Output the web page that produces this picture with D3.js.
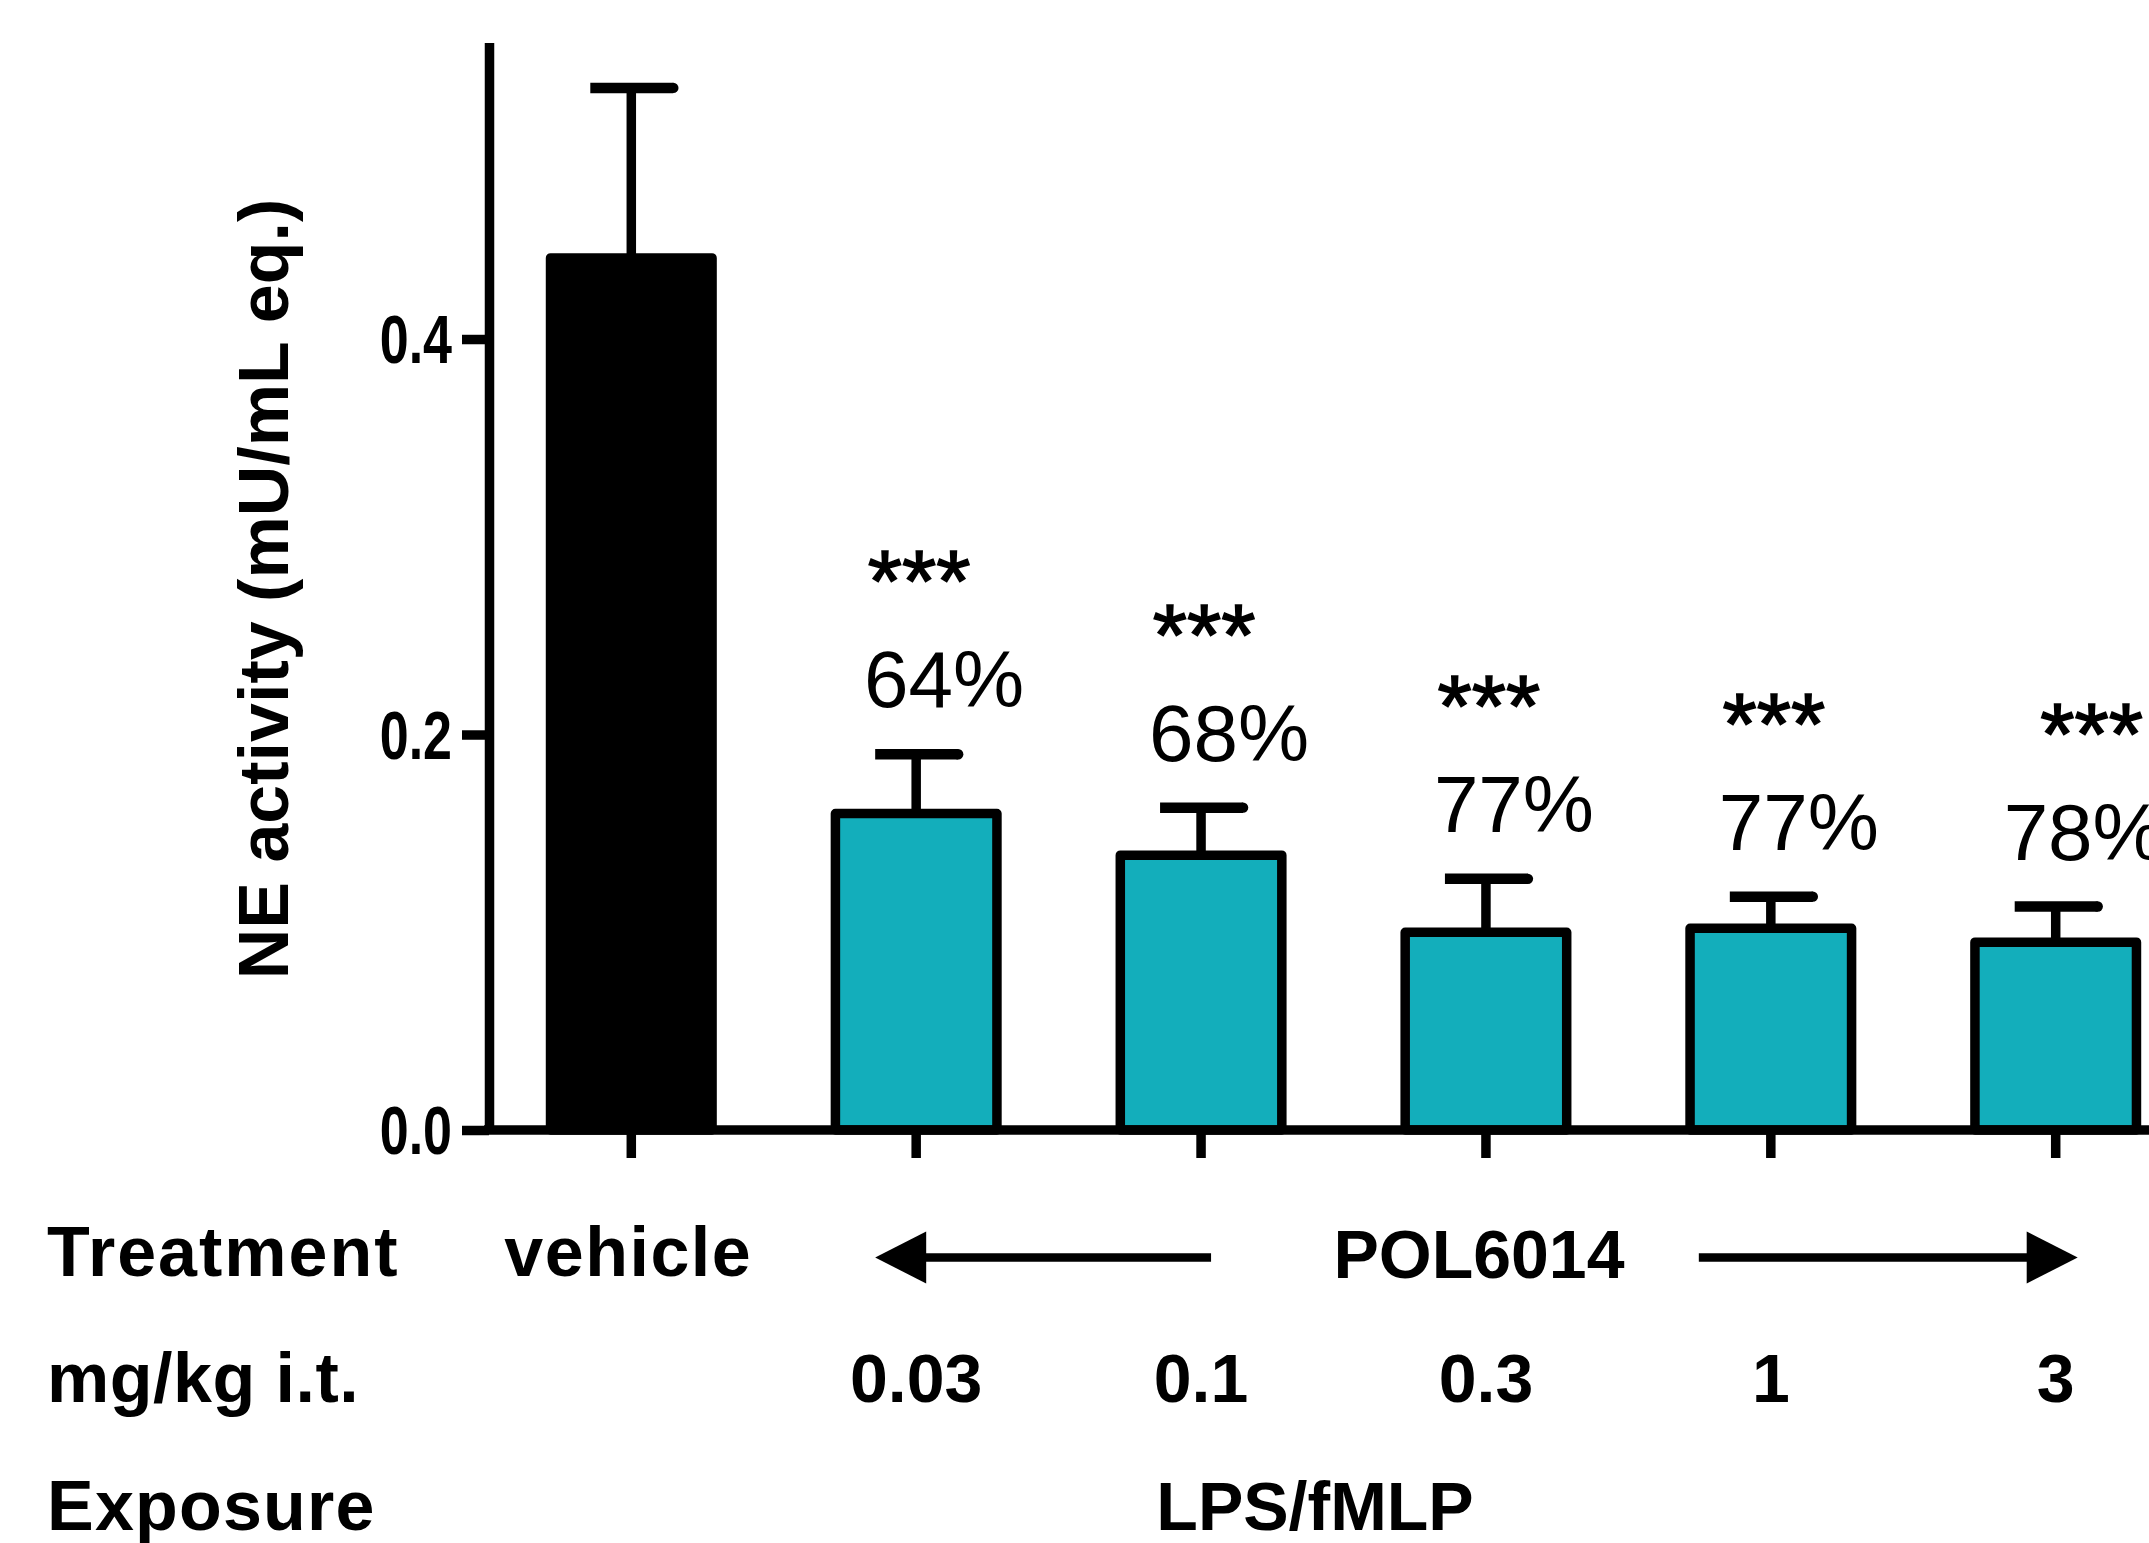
<!DOCTYPE html>
<html>
<head>
<meta charset="utf-8">
<script src="https://cdn.jsdelivr.net/npm/d3@7"></script>
<style>
  html, body { margin: 0; padding: 0; background: #fff; }
  svg { display: block; font-family: "Liberation Sans", Arial, sans-serif; }
</style>
</head>
<body>
<svg id="chart" width="2149" height="1543"></svg>
<script>
// ---- data ----
const categories   = ["vehicle", "0.03", "0.1", "0.3", "1", "3"];
const means        = [0.441, 0.160, 0.139, 0.100, 0.102, 0.095];
const sems         = [0.086, 0.030, 0.024, 0.027, 0.016, 0.018];
const inhibition   = ["", "64%", "68%", "77%", "77%", "78%"];
const significance = ["", "***", "***", "***", "***", "***"];
const yTicks       = [0, 0.2, 0.4];
const doseLabels   = ["", "0.03", "0.1", "0.3", "1", "3"];
const rowLabels    = ["Treatment", "mg/kg i.t.", "Exposure"];
const treatmentVehicle = "vehicle";
const treatmentDrug    = "POL6014";
const exposureLabel    = "LPS/fMLP";
const yTitle = "NE activity (mU/mL eq.)";

// ---- layout ----
const svg = d3.select("#chart");
const TEAL = "#13AEBB";
const SW = 9.5;

const x = d3.scaleBand().domain(categories).range([489, 2198]).paddingInner(0.433).paddingOuter(0.216);
const y = d3.scaleLinear().domain([0, 0.55]).range([1130, 42.4]);
const cx = c => x(c) + x.bandwidth() / 2;

const data = categories.map((c, i) => ({ c, i, m: means[i], s: sems[i] }));

// bars
svg.append("g").selectAll("rect").data(data).join("rect")
  .attr("x", d => x(d.c))
  .attr("y", d => y(d.m))
  .attr("width", x.bandwidth())
  .attr("height", d => y(0) - y(d.m))
  .attr("fill", d => d.i === 0 ? "#000" : TEAL)
  .attr("stroke", "#000")
  .attr("stroke-width", SW)
  .attr("stroke-linejoin", "round");

// error bars
const eb = svg.append("g").attr("stroke", "#000").attr("stroke-width", SW);
eb.selectAll("line.v").data(data).join("line").attr("class", "v")
  .attr("x1", d => cx(d.c)).attr("x2", d => cx(d.c))
  .attr("y1", d => y(d.m)).attr("y2", d => y(d.m + d.s));
eb.selectAll("line.cap").data(data).join("line").attr("class", "cap")
  .attr("x1", d => cx(d.c) - 41).attr("x2", d => cx(d.c) + 42)
  .attr("y1", d => y(d.m + d.s)).attr("y2", d => y(d.m + d.s))
  .attr("stroke-width", 10.5).attr("stroke-linecap", "butt");
eb.selectAll("circle.capend").data(data).join("circle").attr("class", "capend")
  .attr("cx", d => cx(d.c) + 42).attr("cy", d => y(d.m + d.s)).attr("r", 5.2)
  .attr("fill", "#000").attr("stroke", "none");

// annotations
const ann = data.filter(d => inhibition[d.i]);
svg.append("g").selectAll("text").data(ann).join("text")
  .attr("x", d => cx(d.c) + 28)
  .attr("y", d => y(d.m + d.s) - 47)
  .attr("text-anchor", "middle")
  .attr("font-size", 80)
  .text(d => inhibition[d.i]);
const starNudge = i => (i === categories.length - 1 ? 36 : 3);
svg.append("g").selectAll("text").data(ann).join("text")
  .attr("x", d => cx(d.c) + starNudge(d.i))
  .attr("y", d => y(d.m + d.s) - 47 - 96)
  .attr("text-anchor", "middle")
  .attr("font-size", 88)
  .attr("stroke", "#000").attr("stroke-width", 1.6)
  .text(d => significance[d.i]);

// y axis
const yAxis = svg.append("g").attr("transform", "translate(489,0)")
  .call(d3.axisLeft(y).tickValues(yTicks).tickSize(27).tickSizeOuter(0).tickFormat(d3.format(".1f")));
yAxis.selectAll("path, line").attr("stroke", "#000").attr("stroke-width", SW);
yAxis.selectAll("text")
  .attr("font-family", "'Liberation Sans', Arial, sans-serif")
  .attr("font-size", 68).attr("font-weight", "bold").attr("fill", "#000")
  .attr("transform", "scale(0.765,1)")
  .attr("x", -37 / 0.765).attr("dy", "0.35em");

// x axis
const xAxis = svg.append("g").attr("transform", "translate(0,1130)")
  .call(d3.axisBottom(x).tickSize(28).tickSizeOuter(0).tickFormat(""));
xAxis.select(".domain").attr("d", "M484,0H2200");
xAxis.selectAll("path, line").attr("stroke", "#000").attr("stroke-width", SW);

// y title
svg.append("text")
  .attr("transform", "translate(288,589) rotate(-90)")
  .attr("text-anchor", "middle")
  .attr("font-size", 70).attr("font-weight", "bold")
  .text(yTitle);

// table rows below the axis
const rowY = [1276, 1402, 1530];
const tbl = svg.append("g").attr("font-weight", "bold").attr("font-size", 70);
tbl.selectAll("text.row").data(rowLabels).join("text").attr("class", "row")
  .attr("x", 47).attr("y", (d, i) => rowY[i])
  .attr("letter-spacing", (d, i) => [2, 0.5, 1.2][i])
  .text(d => d);

tbl.append("text").attr("x", cx(categories[0]) - 3).attr("y", rowY[0])
  .attr("text-anchor", "middle").attr("letter-spacing", 1.5).text(treatmentVehicle);
tbl.append("text").attr("x", cx(categories[3]) - 7).attr("y", rowY[0] + 2)
  .attr("text-anchor", "middle").attr("font-size", 68).text(treatmentDrug);

tbl.selectAll("text.dose").data(data.filter(d => doseLabels[d.i])).join("text").attr("class", "dose")
  .attr("x", d => cx(d.c)).attr("y", rowY[1])
  .attr("text-anchor", "middle").attr("font-size", 68)
  .text(d => doseLabels[d.i]);

tbl.append("text").attr("x", cx(categories[2]) + 0.4 * x.step()).attr("y", rowY[2])
  .attr("text-anchor", "middle").attr("font-size", 68).text(exposureLabel);

// arrows
const ay = 1257.5;
const arrows = svg.append("g");
const lTip = cx(categories[1]) - 41, lEnd = cx(categories[2]) + 10;
const rStart = cx(categories[4]) - 72, rTip = cx(categories[5]) + 22;
arrows.append("line").attr("x1", lTip + 40).attr("x2", lEnd).attr("y1", ay).attr("y2", ay)
  .attr("stroke", "#000").attr("stroke-width", 8.5);
arrows.append("path").attr("d", `M${lTip},${ay}L${lTip + 51},${ay - 26}L${lTip + 51},${ay + 26}Z`).attr("fill", "#000");
arrows.append("line").attr("x1", rStart).attr("x2", rTip - 40).attr("y1", ay).attr("y2", ay)
  .attr("stroke", "#000").attr("stroke-width", 8.5);
arrows.append("path").attr("d", `M${rTip},${ay}L${rTip - 51},${ay - 26}L${rTip - 51},${ay + 26}Z`).attr("fill", "#000");
</script>
</body>
</html>
